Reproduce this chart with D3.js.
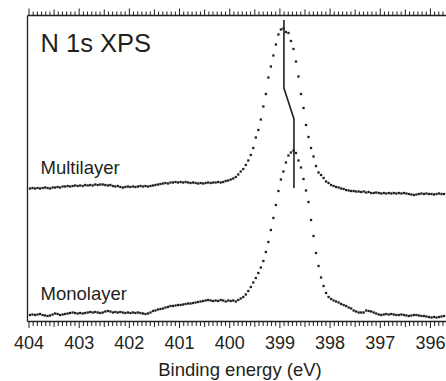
<!DOCTYPE html>
<html>
<head>
<meta charset="utf-8">
<script src="https://cdn.jsdelivr.net/npm/d3@7"></script>
<style>
  html, body { margin: 0; padding: 0; background: #fff; }
  svg { display: block; }
  text { font-family: "Liberation Sans", Arial, Helvetica, sans-serif; fill: #231f20; }
</style>
</head>
<body>
<svg id="chart" width="446" height="381"></svg>
<script>
// ---- data ----
// Binding energy sampling (eV): first point and step of the spectrometer scan
const energyStart = 403.97;
const energyStep = 0.05;

// N 1s intensity (arbitrary units, stacked for display)
const multilayer = [
  132.5,133,132.5,133,132.5,133,133.5,133,132.5,133.5,
  133.5,134,133.5,134.5,134.5,135,134.5,135,135.5,135,
  135.5,135,136,135.5,136,135.5,136.5,136,136.5,136.5,
  136,135.5,136,135,134.5,135,134,133.5,134,134.5,
  134,134.5,134,134.5,135,134.5,135,134.5,135,135.5,
  136,136.5,137,137.5,138,137.5,138.5,138.5,139,138.5,
  139,138.5,139,138.5,138,138.5,138,137.5,138,137.5,
  138,138.5,138,138.5,138.5,139,138.5,139,140,140.5,
  141.5,142.5,144,146.5,149.5,152,156,160.5,166,173,
  183.5,191,201.5,214.5,227,243.5,254.5,265.5,276.5,286.5,
  291.5,292.5,289,288,280,272,259.5,244.5,227,213,
  196,184,173,164.5,155,148.5,146,143,139.5,138,
  136,135,134,133.5,132.5,132,131,130.5,130,130,
  129.5,129.5,129,129.5,128.5,129,128,128,128.5,128,
  127.5,128,127.5,128,127.5,128,127.5,128,127.5,128,
  127.5,127,126.5,126,126.5,127,127.5,127,127.5,127,
  127,126.5,127,127.5,127,127
];
const monolayer = [
  6,6.5,6,6.5,7,6,5.5,5,5.5,6.5,
  7.5,7,6,6.5,7,7.5,8,8.5,8,7.5,
  8,7.5,8,8.5,9,8.5,9,8.5,8,8.5,
  9.5,10,9.5,8.5,9,8.5,9,8.5,8,8.5,
  8,8.5,8,8.5,8,7.5,7,7.5,8.5,10,
  10.5,11.5,12,12.5,13.5,14,15,15,15.5,16,
  16,16.5,17,17.5,17.5,18,18.5,19,19.5,20,
  20.5,21,20.5,20,20.5,20,21,20.5,19.5,20.5,
  20,20.5,19.5,21,22.5,24,26.5,30,34,38.5,
  43,48,53.5,60,69,79,91,103,116,130,
  141.5,149.5,158.5,165.5,168.5,170.5,168,160.5,153.5,142,
  130.5,119,101,85,68,55,43.5,35,28,24,
  22,20.5,19.5,18.5,17,16,15,13.5,12.5,10.5,
  9.5,8.5,8.5,8.5,10.5,10,9.5,8.5,7.5,6.5,
  6,6.5,7,6.5,7,6.5,6,6,6.5,6,
  5.5,5,5.5,6,6,5.5,5,5,4.5,4,
  3.5,4,3.5,4,4.5,5
];

// peak-shift marker (binding energy, intensity)
const markerEnergy = [398.91, 398.91, 398.71, 398.71];
const markerValue = [301, 233, 202, 133];

const xTickLabels = [404, 403, 402, 401, 400, 399, 398, 397, 396];
const xDomain = [404.03, 395.68];
const yDomain = [0, 306];
const minorPerUnit = 12;

const seriesLabels = ["Multilayer", "Monolayer"];
const seriesLabelValues = [147, 21];
const title = "N 1s XPS";
const xTitle = "Binding energy (eV)";

// ---- chart ----
const svg = d3.select("#chart");
const L = 27, R = 446, T = 15, B = 321;

const x = d3.scaleLinear().domain(xDomain).range([L, R]);
const y = d3.scaleLinear().domain(yDomain).range([B, T]);

const tickVals = d3.range(0, Math.floor((xDomain[0] - xDomain[1]) * minorPerUnit) + 1)
  .map(k => xDomain[0] - 0.03 - k / minorPerUnit)
  .filter(v => v >= xDomain[1]);
const isMajor = v => Math.abs(v - Math.round(v)) < 1e-6;
const isHalf = v => Math.abs(v * 2 - Math.round(v * 2)) < 1e-6;

// bottom axis
const gB = svg.append("g").attr("transform", `translate(0,${B})`)
  .call(d3.axisBottom(x).tickValues(tickVals).tickSize(5).tickSizeOuter(0)
    .tickFormat(v => isMajor(v) && xTickLabels.includes(Math.round(v)) ? String(Math.round(v)) : ""));
gB.selectAll(".tick line").attr("y2", v => isMajor(v) ? 7 : (isHalf(v) ? 6 : 5));
gB.selectAll(".tick text").attr("dy", null).attr("y", 28)
  .style("font-size", "18px").style("font-family", "'Liberation Sans', Arial, sans-serif").attr("fill", "#231f20");

// top axis
const gT = svg.append("g").attr("transform", `translate(0,${T})`)
  .call(d3.axisTop(x).tickValues(tickVals).tickSize(3.5).tickSizeOuter(0).tickFormat(""));
gT.selectAll(".tick line").attr("y2", v => isMajor(v) ? -6.5 : (isHalf(v) ? -5.5 : -3.5));

// left axis (frame line)
const gL = svg.append("g").attr("transform", `translate(${L},0)`)
  .call(d3.axisLeft(y).tickValues([]).tickSizeOuter(0));

svg.selectAll(".domain").attr("stroke", "#231f20").attr("stroke-width", 1.3);
svg.selectAll(".tick line").attr("stroke", "#231f20").attr("stroke-width", 1);

// data points
const toPts = arr => arr.map((v, i) => ({ e: energyStart - i * energyStep, v }));
const dot = 2.3;
[multilayer, monolayer].forEach(arr => {
  svg.append("g").selectAll("rect").data(toPts(arr)).join("rect")
    .attr("x", d => x(d.e) - dot / 2)
    .attr("y", d => y(d.v) - dot / 2)
    .attr("width", dot).attr("height", dot)
    .attr("fill", "#231f20");
});

// marker line
svg.append("path")
  .datum(markerEnergy.map((e, i) => [e, markerValue[i]]))
  .attr("d", d3.line().x(d => x(d[0])).y(d => y(d[1])))
  .attr("fill", "none").attr("stroke", "#231f20").attr("stroke-width", 1.6);

// texts
svg.append("text").attr("x", 40.5).attr("y", 52).style("font-size", "25.5px").text(title);
seriesLabels.forEach((s, i) => {
  svg.append("text").attr("x", 40.5).attr("y", y(seriesLabelValues[i]))
    .style("font-size", "18.5px").text(s);
});
svg.append("text").attr("x", 240).attr("y", 376).attr("text-anchor", "middle")
  .style("font-size", "18.5px").text(xTitle);
</script>
</body>
</html>
